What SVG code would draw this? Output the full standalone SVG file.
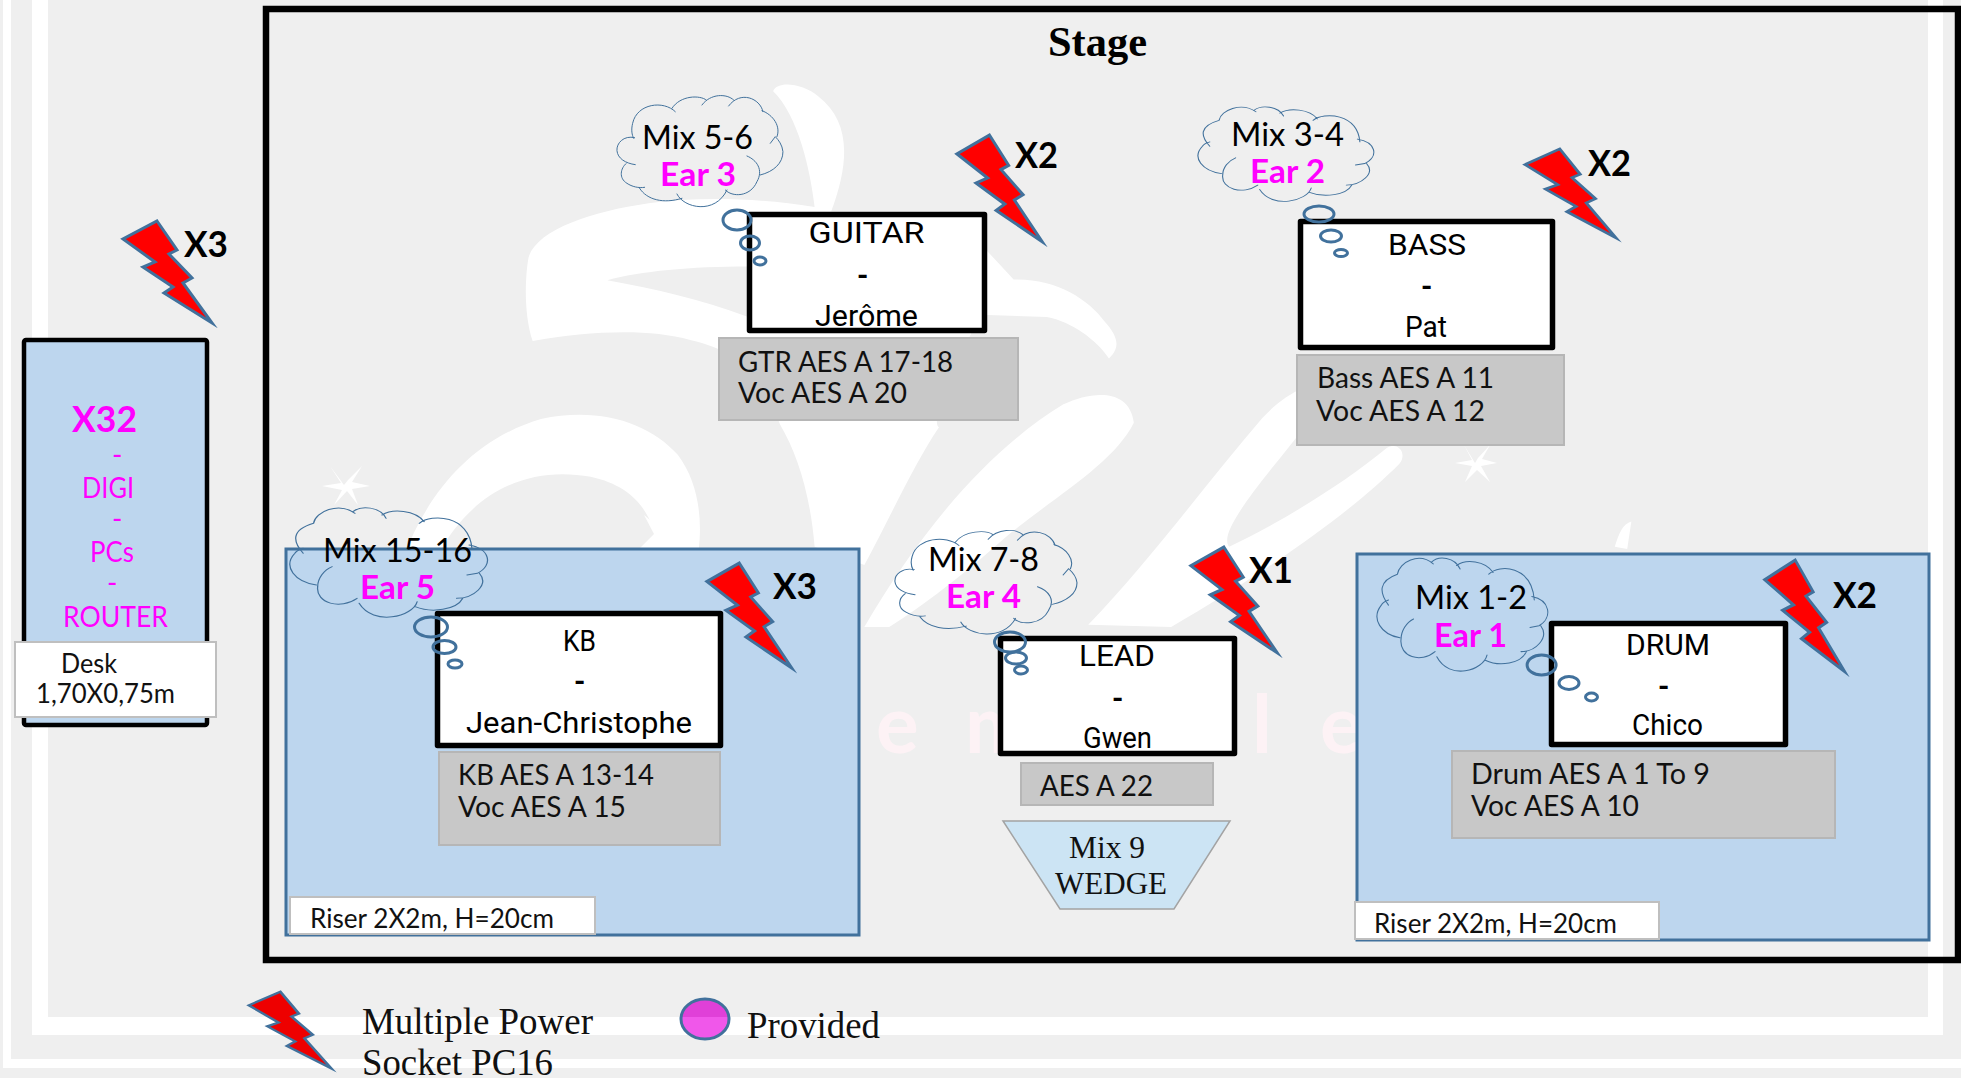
<svg xmlns="http://www.w3.org/2000/svg" width="1961" height="1078" viewBox="0 0 1961 1078">
<style>
.t{font-family:Lato,"Liberation Sans",sans-serif;fill:#000}
.mix{font-size:32px}
.ear{font-size:32px;font-weight:700;fill:#ff00ff}
.aes{font-size:28px;fill:#111}
.small{font-size:26px;fill:#111}
.xn{font-size:37px;font-weight:700}
.pk{font-size:28px;fill:#ff00ff}
.who{font-family:Roboto,"Noto Sans",sans-serif;font-size:29px;fill:#000}
.dash{font-weight:700}
.ser{font-family:"Liberation Serif",serif;font-size:37px;fill:#111}
.wed{font-size:31px}
.box{fill:#fff;stroke:#000;stroke-width:5.5;stroke-linejoin:round}
.gray{fill:#c8c8c8;stroke:#b6b6b6;stroke-width:2}
.riser{fill:#bdd6ee;stroke:#41719c;stroke-width:3}
.lab{fill:#fff;stroke:#bfbfbf;stroke-width:2}
.cl{fill:none;stroke:#41719c;stroke-width:3;vector-effect:non-scaling-stroke;stroke-linecap:round}
.bu{fill:none;stroke:#41719c;stroke-width:3}
.bolt{fill:#ff0000;stroke:#41719c;stroke-width:3;stroke-miterlimit:12;vector-effect:non-scaling-stroke}
.wm{fill:#fff}
</style>
<defs>
<path id="cloud" d="M103 173C70 165 48 190 50 212C52 235 75 250 105 254M78 250C60 265 55 295 80 310C95 320 115 325 133 322M118 325C140 360 190 372 245 355M230 342C250 385 345 405 380 330M375 330C395 352 450 352 470 305C490 270 470 240 440 228M480 285C520 275 548 250 548 215C546 195 535 180 525 170L510 190M530 170C542 140 520 105 485 92M488 95C480 55 420 30 385 78M400 60C380 40 330 40 305 75M318 60C300 45 240 45 215 85M225 95C190 60 110 70 97 130C92 150 95 165 100 175"/>
<path id="cloud2" d="M80 250C55 215 50 180 105 160M105 160C110 125 165 95 205 130M200 125C220 105 265 110 280 145M270 135C295 115 350 120 372 155M360 160C390 130 480 135 487 235M480 225C530 235 540 285 500 310L475 315M505 310C530 345 490 385 450 385M465 385C450 420 390 430 350 410M355 395C345 440 250 470 215 400M210 385C170 420 110 400 115 350C115 325 130 300 150 290M112 345C60 335 30 290 60 250C65 240 72 238 80 235"/>
<polygon id="bolt" points="36,1 56,30 48,34 71,58 62,63 91,103 43,73 52,67 22,47 34,42 2,19"/>
<linearGradient id="lgE" gradientUnits="userSpaceOnUse" x1="0" y1="990" x2="0" y2="1078">
<stop offset="0" stop-color="#e040d8"/><stop offset=".307" stop-color="#e040d8"/><stop offset=".307" stop-color="#f057ea"/><stop offset="1" stop-color="#f057ea"/>
</linearGradient>
<linearGradient id="lgB" gradientUnits="userSpaceOnUse" x1="0" y1="990" x2="0" y2="1078">
<stop offset="0" stop-color="#ee0000"/><stop offset=".307" stop-color="#ee0000"/><stop offset=".307" stop-color="#ff1414"/><stop offset=".51" stop-color="#ff1414"/><stop offset=".51" stop-color="#ee0000"/><stop offset=".78" stop-color="#ee0000"/><stop offset=".78" stop-color="#ff1414"/><stop offset="1" stop-color="#ff1414"/>
</linearGradient>
</defs>

<g id="background">
<rect width="1961" height="1078" fill="#efefef"/>
<path d="M3 0V1068H1961V1059H11V0Z" fill="#fff"/>
<path d="M32 0V1035H1943V0H1928V1017H48V0Z" fill="#fff"/>
</g>

<g id="watermark" transform="translate(400 60) scale(.8292 .4591)">
<path class="wm" d="M155 430C165 370 230 330 300 312C360 298 430 300 500 320C495 240 480 120 450 68C455 45 485 50 505 80C540 130 545 210 520 330L650 330C670 340 700 400 740 478C790 475 830 520 850 570C865 600 870 625 855 650C840 610 810 570 780 560L700 555C660 700 640 790 650 800C620 880 590 1000 560 1100L500 1060C495 950 480 860 458 793C440 700 420 640 350 610C300 585 230 590 160 612C150 560 150 480 155 430ZM250 480C310 500 360 520 420 560V450C350 450 290 460 250 480Z"/>
<path class="wm" d="M5 1080C30 960 80 830 170 782C240 755 300 790 335 860C360 920 365 1000 360 1070L312 1070C305 990 285 930 230 908C160 885 90 930 45 1080Z"/>
<path class="wm" d="M560 1235C620 1050 700 860 800 750C835 720 880 715 885 790C860 880 790 950 730 1040C680 1120 630 1190 590 1235Z"/>
<path class="wm" d="M830 1230C900 1100 960 950 1040 780C1070 720 1110 690 1135 700L1060 870C1010 980 990 1040 1000 1060C1060 1010 1140 920 1190 845C1205 830 1215 860 1205 880C1150 980 1050 1110 930 1235Z"/>
<path class="wm" d="M1465 1060C1470 1030 1475 1010 1485 1005L1480 1065Z"/>
</g>
<g id="sparkles" fill="#fff">
<path d="M344 485L348 480L362 466L352 482L370 486L352 489L358 505L347 491L334 505L342 490L322 486L341 483L330 466Z"/>
<path d="M1475 463L1478 458L1490 445L1482 459L1497 463L1481 466L1490 482L1477 470L1465 482L1472 466L1455 463L1472 460L1464 445Z"/>
<path d="M662 538L664 528L680 515L670 534L690 548H640L654 534L644 515L660 528Z"/>
</g>
<g id="faint-letters" font-family="Lato,sans-serif" font-size="80" font-weight="700" fill="#fdf2f5">
<text x="876" y="753">e</text><text x="965" y="753">m</text><text x="1252" y="753">l</text><text x="1320" y="753">e</text>
</g>

<g id="stage"><rect x="266" y="9" width="1692" height="951" fill="none" stroke="#000" stroke-width="6.5"/>
<text x="1048" y="56" font-family="Liberation Serif,serif" font-size="42" font-weight="700" textLength="99" lengthAdjust="spacingAndGlyphs">Stage</text></g>

<g id="desk">
<rect x="24" y="340" width="183" height="385" rx="2" fill="#bdd6ee" stroke="#000" stroke-width="4.5"/>
<text class="t" x="72" y="432" font-size="37" font-weight="700" style="fill:#ff00ff" textLength="65" lengthAdjust="spacingAndGlyphs">X32</text>
<text class="t pk" x="112" y="465">-</text>
<text class="t pk" x="82" y="498" textLength="52" lengthAdjust="spacingAndGlyphs">DIGI</text>
<text class="t pk" x="112" y="529">-</text>
<text class="t pk" x="90" y="562" textLength="44" lengthAdjust="spacingAndGlyphs">PCs</text>
<text class="t pk" x="107" y="593">-</text>
<text class="t pk" x="63" y="627" textLength="105" lengthAdjust="spacingAndGlyphs">ROUTER</text>
<rect class="lab" x="15" y="642" width="201" height="75"/>
<text class="t small" x="61" y="673" textLength="56" lengthAdjust="spacingAndGlyphs">Desk</text>
<text class="t small" x="36" y="703" textLength="139" lengthAdjust="spacingAndGlyphs">1,70X0,75m</text>
<use href="#bolt" class="bolt" transform="translate(121 220)"/>
<text class="t xn" x="184" y="257" textLength="44" lengthAdjust="spacingAndGlyphs">X3</text>
</g>

<g id="riser-kb"><rect class="riser" x="286" y="549" width="573" height="386"/>
<rect class="lab" x="290" y="897" width="305" height="37"/>
<text class="t small" x="310" y="928" textLength="244" lengthAdjust="spacingAndGlyphs">Riser 2X2m, H=20cm</text></g>
<g id="riser-drum"><rect class="riser" x="1357" y="554" width="572" height="386"/>
<rect class="lab" x="1355" y="902" width="304" height="37"/>
<text class="t small" x="1374" y="933" textLength="243" lengthAdjust="spacingAndGlyphs">Riser 2X2m, H=20cm</text></g>

<g id="guitar">
<rect class="box" x="749.5" y="214.5" width="235" height="116"/>
<text class="who" x="808.5" y="243" textLength="116" lengthAdjust="spacingAndGlyphs">GUITAR</text>
<text class="who dash" x="857" y="285">-</text>
<text class="who" x="815" y="326" textLength="103" lengthAdjust="spacingAndGlyphs">Jerôme</text>
<rect class="gray" x="719" y="338" width="299" height="82"/>
<text class="t aes" x="738" y="372" textLength="215" lengthAdjust="spacingAndGlyphs">GTR AES A 17-18</text>
<text class="t aes" x="738" y="403" textLength="169" lengthAdjust="spacingAndGlyphs">Voc AES A 20</text>
<use href="#cloud" class="cl" transform="translate(600.3 80) scale(.3333 .3333)"/>
<ellipse class="bu" cx="737" cy="220" rx="14" ry="10"/><ellipse class="bu" cx="750" cy="243" rx="9.5" ry="7"/><ellipse class="bu" cx="760" cy="261" rx="6" ry="4"/>
<text class="t mix" x="642" y="149" textLength="111" lengthAdjust="spacingAndGlyphs">Mix 5-6</text>
<text class="t ear" x="660" y="186" textLength="76" lengthAdjust="spacingAndGlyphs">Ear 3</text>
<use href="#bolt" class="bolt" transform="translate(955 134) scale(.958 1.046)"/>
<text class="t xn" x="1015" y="168" textLength="43" lengthAdjust="spacingAndGlyphs">X2</text>
</g>

<g id="bass">
<rect class="box" x="1300.5" y="221.5" width="252" height="126"/>
<text class="who" x="1388" y="255" textLength="78" lengthAdjust="spacingAndGlyphs">BASS</text>
<text class="who dash" x="1421" y="296">-</text>
<text class="who" x="1405" y="337" textLength="42" lengthAdjust="spacingAndGlyphs">Pat</text>
<rect class="gray" x="1297" y="355" width="267" height="90"/>
<text class="t aes" x="1317" y="388" textLength="177" lengthAdjust="spacingAndGlyphs">Bass AES A 11</text>
<text class="t aes" x="1316" y="421" textLength="169" lengthAdjust="spacingAndGlyphs">Voc AES A 12</text>
<use href="#cloud2" class="cl" transform="translate(1180.3 74.3) scale(.3688 .2878)"/>
<ellipse class="bu" cx="1319" cy="214" rx="15" ry="8"/><ellipse class="bu" cx="1331" cy="236" rx="10.5" ry="6"/><ellipse class="bu" cx="1341" cy="253" rx="6.5" ry="3.5"/>
<text class="t mix" x="1231" y="146" textLength="113" lengthAdjust="spacingAndGlyphs">Mix 3-4</text>
<text class="t ear" x="1250" y="183" textLength="75" lengthAdjust="spacingAndGlyphs">Ear 2</text>
<use href="#bolt" class="bolt" transform="translate(1523 148) scale(1.021 .872)"/>
<text class="t xn" x="1588" y="176" textLength="43" lengthAdjust="spacingAndGlyphs">X2</text>
</g>

<g id="kb">
<rect class="box" x="437.5" y="613.5" width="283" height="132"/>
<text class="who" x="563" y="651" textLength="33" lengthAdjust="spacingAndGlyphs">KB</text>
<text class="who dash" x="574" y="691">-</text>
<text class="who" x="466" y="733" textLength="226" lengthAdjust="spacingAndGlyphs">Jean-Christophe</text>
<rect class="gray" x="439" y="752" width="281" height="93"/>
<text class="t aes" x="458" y="785" textLength="196" lengthAdjust="spacingAndGlyphs">KB AES A 13-14</text>
<text class="t aes" x="458" y="817" textLength="168" lengthAdjust="spacingAndGlyphs">Voc AES A 15</text>
<use href="#cloud2" class="cl" transform="translate(270 470) scale(.4146 .3333)"/>
<ellipse class="bu" cx="431" cy="627" rx="16.5" ry="10"/><ellipse class="bu" cx="444.5" cy="647" rx="11.5" ry="6.5"/><ellipse class="bu" cx="455" cy="664" rx="7" ry="4"/>
<text class="t mix" x="323" y="562" textLength="149" lengthAdjust="spacingAndGlyphs">Mix 15-16</text>
<text class="t ear" x="360" y="599" textLength="75" lengthAdjust="spacingAndGlyphs">Ear 5</text>
<use href="#bolt" class="bolt" transform="translate(705 562) scale(.953 1.028)"/>
<text class="t xn" x="773" y="599" textLength="44" lengthAdjust="spacingAndGlyphs">X3</text>
</g>

<g id="lead">
<rect class="box" x="1000.5" y="638.5" width="234" height="115"/>
<text class="who" x="1079" y="666" textLength="76" lengthAdjust="spacingAndGlyphs">LEAD</text>
<text class="who dash" x="1112" y="708">-</text>
<text class="who" x="1083" y="748" textLength="69" lengthAdjust="spacingAndGlyphs">Gwen</text>
<rect class="gray" x="1021" y="763" width="192" height="42"/>
<text class="t aes" x="1040" y="796" textLength="113" lengthAdjust="spacingAndGlyphs">AES A 22</text>
<use href="#cloud" class="cl" transform="translate(876.7 516) scale(.3655 .3101)"/>
<ellipse class="bu" cx="1010" cy="642" rx="15.5" ry="10"/><ellipse class="bu" cx="1016" cy="658" rx="10.5" ry="6"/><ellipse class="bu" cx="1021" cy="670" rx="6.5" ry="4"/>
<text class="t mix" x="928" y="571" textLength="111" lengthAdjust="spacingAndGlyphs">Mix 7-8</text>
<text class="t ear" x="946" y="608" textLength="75" lengthAdjust="spacingAndGlyphs">Ear 4</text>
<use href="#bolt" class="bolt" transform="translate(1189 546) scale(.969 1.037)"/>
<text class="t xn" x="1249" y="583" textLength="44" lengthAdjust="spacingAndGlyphs">X1</text>
</g>

<g id="wedge">
<polygon points="1003,821 1230,821 1174,909 1060,909" fill="#cce4f4" stroke="#a3a3a3" stroke-width="1.5"/>
<text class="ser wed" x="1069" y="858" textLength="76" lengthAdjust="spacingAndGlyphs">Mix 9</text>
<text class="ser wed" x="1055" y="894" textLength="112" lengthAdjust="spacingAndGlyphs">WEDGE</text>
</g>

<g id="drum">
<rect class="box" x="1551.5" y="623.5" width="234" height="121"/>
<text class="who" x="1626" y="655" textLength="84" lengthAdjust="spacingAndGlyphs">DRUM</text>
<text class="who dash" x="1658" y="696">-</text>
<text class="who" x="1632" y="735" textLength="71" lengthAdjust="spacingAndGlyphs">Chico</text>
<rect class="gray" x="1452" y="751" width="383" height="87"/>
<text class="t aes" x="1471" y="784" textLength="239" lengthAdjust="spacingAndGlyphs">Drum AES A 1 To 9</text>
<text class="t aes" x="1471" y="816" textLength="168" lengthAdjust="spacingAndGlyphs">Voc AES A 10</text>
<use href="#cloud2" class="cl" transform="translate(1359.8 519.1) scale(.3583 .3442)"/>
<ellipse class="bu" cx="1541.6" cy="665" rx="14.5" ry="10"/><ellipse class="bu" cx="1569" cy="683" rx="10" ry="6.5"/><ellipse class="bu" cx="1591.5" cy="697" rx="6" ry="4"/>
<text class="t mix" x="1415" y="609" textLength="112" lengthAdjust="spacingAndGlyphs">Mix 1-2</text>
<text class="t ear" x="1434" y="647" textLength="73" lengthAdjust="spacingAndGlyphs">Ear 1</text>
<use href="#bolt" class="bolt" transform="translate(1763 559) scale(.896 1.092)"/>
<text class="t xn" x="1833" y="608" textLength="44" lengthAdjust="spacingAndGlyphs">X2</text>
</g>

<g id="legend">
<use href="#bolt" class="bolt" style="fill:url(#lgB)" transform="translate(247 991) scale(.927 .752)"/>
<text class="ser" x="362" y="1034" textLength="231" lengthAdjust="spacingAndGlyphs">Multiple Power</text>
<text class="ser" x="362" y="1075" textLength="191" lengthAdjust="spacingAndGlyphs">Socket PC16</text>
<ellipse cx="705" cy="1019" rx="24" ry="20" fill="url(#lgE)" stroke="#41719c" stroke-width="3"/>
<text class="ser" x="747" y="1038" textLength="133" lengthAdjust="spacingAndGlyphs">Provided</text>
</g>
</svg>
